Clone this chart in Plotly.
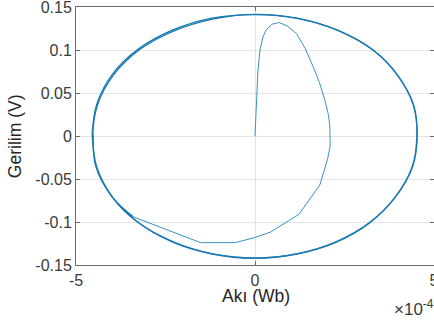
import numpy as np
import plotly.graph_objects as go

# Flux values in units of 1e-4 Wb, voltage in V
transient_flux = [0.00, 0.02, 0.04, 0.08, 0.14, 0.22, 0.32, 0.48, 0.67, 0.90, 1.16, 1.40,
                  1.62, 1.80, 1.95, 2.05, 2.09, 2.10, 2.02, 1.81, 1.23, 0.42, 0.00, -0.55,
                  -1.52, -3.40]
transient_volt = [0.000, 0.020, 0.042, 0.075, 0.100, 0.115, 0.124, 0.130, 0.132, 0.128, 0.119, 0.102,
                  0.081, 0.062, 0.042, 0.025, 0.011, -0.012, -0.028, -0.057, -0.091, -0.112, -0.118, -0.124,
                  -0.124, -0.094]

loop1_flux = [-3.40, -3.98, -4.42, -4.53, -4.40, -3.95, -3.24, -2.28, -1.18, 0.00, 1.18, 2.30, 3.30,
              3.98, 4.42, 4.53, 4.40, 3.92, 3.22, 2.26, 1.16, 0.00, -1.18, -2.28, -3.28,
              -3.98, -4.42, -4.55]
loop1_volt = [-0.094, -0.071, -0.036, 0.000, 0.036, 0.071, 0.100, 0.122, 0.136, 0.1415, 0.137, 0.123, 0.100,
              0.071, 0.036, 0.000, -0.036, -0.071, -0.100, -0.123, -0.137, -0.1418, -0.137, -0.123, -0.100,
              -0.071, -0.036, 0.002]

loop2_flux = [-4.55, -4.42, -3.98, -3.26, -2.31, -1.20, 0.02, 1.20, 2.33, 3.32, 3.99, 4.44, 4.52,
              4.38, 3.90, 3.20, 2.24, 1.14, -0.02, -1.20, -2.30, -3.30, -4.00, -4.45, -4.52]
loop2_volt = [0.002, 0.037, 0.072, 0.101, 0.123, 0.137, 0.1412, 0.1365, 0.1225, 0.099, 0.070, 0.035, -0.002,
              -0.037, -0.072, -0.101, -0.124, -0.1375, -0.1422, -0.1372, -0.1235, -0.0995, -0.0705, -0.035, 0.001]

x_tickvals = [-5, 0, 5]
x_ticktext = ["-5", "0", "5"]
y_tickvals = [-0.15, -0.1, -0.05, 0, 0.05, 0.1, 0.15]
y_ticktext = ["-0.15", "-0.1", "-0.05", "0", "0.05", "0.1", "0.15"]

scale = 1e-4
line_color = "#1a7ab2"

fig = go.Figure()
fig.add_trace(go.Scatter(x=np.array(loop1_flux) * scale, y=loop1_volt, mode="lines",
                         line=dict(color=line_color, width=1.3, shape="spline", smoothing=1.0),
                         showlegend=False))
fig.add_trace(go.Scatter(x=np.array(loop2_flux) * scale, y=loop2_volt, mode="lines",
                         line=dict(color=line_color, width=1.3, shape="spline", smoothing=1.0),
                         showlegend=False))
fig.add_trace(go.Scatter(x=np.array(transient_flux) * scale, y=transient_volt, mode="lines",
                         line=dict(color="#3a93c4", width=1.0),
                         showlegend=False))

font_family = "Liberation Sans, Arial, sans-serif"
axis_common = dict(showline=True, linecolor="#6a6a6a", linewidth=1, mirror="ticks",
                   ticks="inside", ticklen=4, tickcolor="#6a6a6a", automargin=False,
                   ticklabeloverflow="allow",
                   showgrid=True, gridcolor="#e4e4e4", gridwidth=1, zeroline=False,
                   tickfont=dict(family=font_family, size=16, color="#3a3a3a"))

fig.update_xaxes(range=[-5e-4, 5e-4], tickvals=[v * scale for v in x_tickvals], ticktext=x_ticktext,
                 ticklabelstandoff=1, **axis_common)
fig.update_yaxes(range=[-0.15, 0.15], tickvals=y_tickvals, ticktext=y_ticktext, **axis_common)

fig.update_layout(
    width=434, height=322,
    margin=dict(l=76, r=0, t=7, b=57, autoexpand=False),
    paper_bgcolor="white", plot_bgcolor="white",
    font=dict(family=font_family, color="#262626"),
    annotations=[
        dict(text="Akı (Wb)", xref="paper", yref="paper", x=0.503, y=-0.122,
             xanchor="center", yanchor="middle", showarrow=False,
             font=dict(family=font_family, size=17.5, color="#262626")),
        dict(text="Gerilim (V)", xref="paper", yref="paper", x=-0.17, y=0.5, textangle=-90,
             xanchor="center", yanchor="middle", showarrow=False,
             font=dict(family=font_family, size=17.5, color="#262626")),
        dict(text="×10<sup>-4</sup>", xref="paper", yref="paper", x=0.883, y=-0.167,
             xanchor="left", yanchor="middle", showarrow=False,
             font=dict(family=font_family, size=17, color="#3a3a3a")),
    ],
)

fig.write_html("out.html", config={"displayModeBar": False},
               post_script="document.body.style.margin='0';")
